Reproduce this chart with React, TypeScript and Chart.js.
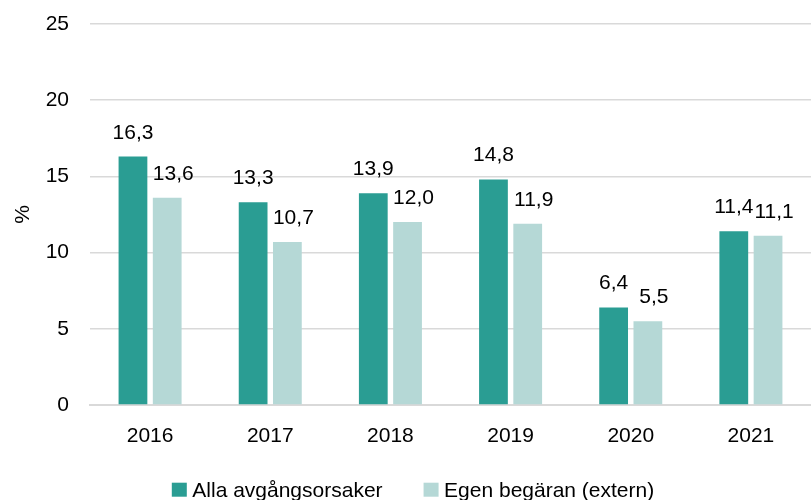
import React, { useEffect, useRef } from "react";
import { Chart, registerables } from "chart.js";

Chart.register(...registerables);

const categories = ["2016", "2017", "2018", "2019", "2020", "2021"];
const allaValues = [16.3, 13.3, 13.9, 14.8, 6.4, 11.4];
const egenValues = [13.6, 10.7, 12.0, 11.9, 5.5, 11.1];
const seriesNames = ["Alla avgångsorsaker", "Egen begäran (extern)"];
const seriesColors = ["#2a9d93", "#b5d8d6"];
const yTicks = [0, 5, 10, 15, 20, 25];

const FONT = "'Liberation Sans', Arial, sans-serif";
const FS = 21;

const labelPlugin = {
  id: "valueLabels",
  afterDatasetsDraw(chart: any) {
    const ctx = chart.ctx;
    ctx.save();
    ctx.font = `${FS}px ${FONT}`;
    ctx.fillStyle = "#000";
    ctx.textAlign = "center";
    ctx.textBaseline = "alphabetic";
    chart.data.datasets.forEach((ds: any, i: number) => {
      const meta = chart.getDatasetMeta(i);
      meta.data.forEach((bar: any, j: number) => {
        const v = ds.data[j] as number;
        const txt = v.toFixed(1).replace(".", ",");
        ctx.fillText(txt, bar.x + (i === 1 ? 6 : 0), bar.y - 18);
      });
    });
    ctx.restore();
  },
};

const legendPlugin = {
  id: "customLegend",
  afterDraw(chart: any) {
    const ctx = chart.ctx;
    ctx.save();
    ctx.font = `${FS}px ${FONT}`;
    ctx.textBaseline = "alphabetic";
    ctx.textAlign = "left";
    const box = 15;
    const gap = 5.5;
    const spacing = 41;
    const items = chart.data.datasets.map((ds: any) => ({
      text: ds.label,
      color: ds.backgroundColor,
      w: ctx.measureText(ds.label).width,
    }));
    const total =
      items.reduce((s: number, it: any) => s + box + gap + it.w, 0) +
      spacing * (items.length - 1);
    let x = chart.width / 2 + 7.5 - total / 2;
    const baseline = chart.height - 3.3;
    items.forEach((it: any) => {
      ctx.fillStyle = it.color;
      ctx.fillRect(x, baseline - 14, box, 14);
      x += box + gap;
      ctx.fillStyle = "#000";
      ctx.fillText(it.text, x, baseline);
      x += it.w + spacing;
    });
    ctx.restore();
  },
};

export default function App() {
  const ref = useRef<HTMLCanvasElement>(null);
  useEffect(() => {
    document.body.style.margin = "0";
    const chart = new Chart(ref.current!, {
      type: "bar",
      data: {
        labels: categories,
        datasets: [
          {
            label: seriesNames[0],
            data: allaValues,
            backgroundColor: seriesColors[0],
            categoryPercentage: 0.57,
            barPercentage: 0.84,
          },
          {
            label: seriesNames[1],
            data: egenValues,
            backgroundColor: seriesColors[1],
            categoryPercentage: 0.57,
            barPercentage: 0.84,
          },
        ],
      },
      options: {
        animation: false,
        responsive: false,
        maintainAspectRatio: false,
        layout: { padding: { top: 24, right: 0, left: 0, bottom: 45 } },
        plugins: {
          tooltip: { enabled: false },
          legend: { display: false },
        },
        scales: {
          x: {
            grid: { display: false, drawTicks: false },
            border: { color: "#d9d9d9", width: 2 },
            ticks: {
              font: { family: FONT, size: FS },
              color: "#000",
              padding: 19,
            },
            afterFit(scale: any) {
              scale.height = 50;
              scale.paddingLeft = 0;
              scale.paddingRight = 0;
            },
          },
          y: {
            min: 0,
            max: 25,
            afterBuildTicks(scale: any) {
              scale.ticks = yTicks.map((v) => ({ value: v }));
            },
            grid: { color: "#d9d9d9", lineWidth: 1.5, drawTicks: false },
            border: { display: false },
            ticks: {
              font: { family: FONT, size: FS },
              color: "#000",
              padding: 21,
            },
            title: {
              display: true,
              text: "%",
              font: { family: FONT, size: FS },
              color: "#000",
              padding: { top: 11, bottom: 0 },
            },
            afterFit(scale: any) {
              scale.width = 90;
              scale.paddingTop = 0;
              scale.paddingBottom = 0;
            },
          },
        },
      },
      plugins: [labelPlugin, legendPlugin],
    });
    return () => chart.destroy();
  }, []);
  return <canvas ref={ref} width={811} height={500} style={{ display: "block" }} />;
}
